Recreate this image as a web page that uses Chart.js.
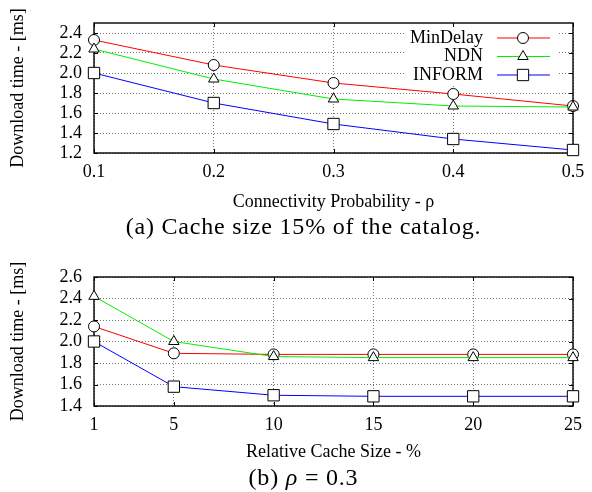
<!DOCTYPE html>
<html>
<head>
<meta charset="utf-8">
<script src="https://cdn.jsdelivr.net/npm/chart.js@4.4.0/dist/chart.umd.min.js"></script>
<style>
  body { margin: 0; background: #fff; width: 592px; height: 492px; position: relative; overflow: hidden; font-family: "Liberation Serif", serif; }
  .box { position: absolute; left: 0; width: 592px; height: 215px; }
  .cap { position: absolute; left: 0; width: 607px; text-align: center; font-size: 24px; line-height: 26px; letter-spacing: 0.8px; color: #000; }
</style>
</head>
<body>
<div class="box" style="top:0"><canvas id="graph1"></canvas></div>
<div class="cap" style="top:213px">(a) Cache size 15% of the catalog.</div>
<div class="box" style="top:250px"><canvas id="graph2"></canvas></div>
<div class="cap" style="top:464px">(b) <i>ρ</i>&nbsp;=&nbsp;0.3</div>
<script>
var seriesNames = ["MinDelay", "NDN", "INFORM"];
var seriesColors = ["#ff0000", "#00ee00", "#0000ff"];
var seriesMarkers = ["circle", "triangle", "rect"];
var markerSizes = [5.5, 6, 8];

// (a) download time vs connectivity probability
var probX = [0.1, 0.2, 0.3, 0.4, 0.5];
var probMinDelay = [2.33, 2.08, 1.90, 1.79, 1.67];
var probNDN = [2.24, 1.94, 1.74, 1.67, 1.66];
var probInform = [2.00, 1.70, 1.49, 1.34, 1.23];
var probYTicks = [1.2, 1.4, 1.6, 1.8, 2, 2.2, 2.4];

// (b) download time vs relative cache size
var cacheX = [1, 5, 10, 15, 20, 25];
var cacheMinDelay = [2.14, 1.89, 1.88, 1.88, 1.88, 1.88];
var cacheNDN = [2.42, 2.00, 1.86, 1.85, 1.85, 1.85];
var cacheInform = [2.00, 1.58, 1.50, 1.49, 1.49, 1.49];
var cacheYTicks = [1.4, 1.6, 1.8, 2, 2.2, 2.4, 2.6];

var serif = "'Liberation Serif', 'Times New Roman', serif";
Chart.defaults.font.family = serif;
Chart.defaults.color = '#000';

function makeSets(xs, lists) {
  return lists.map(function (ys, i) {
    return {
      label: seriesNames[i],
      data: xs.map(function (x, j) { return { x: x, y: ys[j] }; }),
      borderColor: seriesColors[i],
      borderWidth: 1,
      pointStyle: seriesMarkers[i],
      pointRadius: markerSizes[i],
      pointHoverRadius: markerSizes[i],
      pointBorderColor: '#000',
      pointBorderWidth: 1,
      pointBackgroundColor: '#fff',
      clip: false,
      order: [1, 0, 2][i]
    };
  });
}

// gnuplot-like frame, inward tics, and key
function framePlugin(showKey) {
  return {
    id: 'frame',
    beforeDatasetsDraw: function (chart) {
      var a = chart.chartArea, ctx = chart.ctx;
      ctx.save();
      if (showKey) {
        ctx.font = '18px ' + serif;
        var w = 0;
        chart.data.datasets.forEach(function (d) { w = Math.max(w, ctx.measureText(d.label).width); });
        ctx.fillStyle = '#fff';
        ctx.fillRect(a.right - 96 - w, a.top + 5, w + 80, 58);
      }
      ctx.strokeStyle = '#000';
      ctx.lineWidth = 1;
      var xs = chart.scales.x, ys = chart.scales.y;
      xs.ticks.forEach(function (t) {
        var p = Math.round(xs.getPixelForValue(t.value)) + 0.5;
        ctx.beginPath();
        ctx.moveTo(p, a.bottom); ctx.lineTo(p, a.bottom - 4);
        ctx.moveTo(p, a.top); ctx.lineTo(p, a.top + 4);
        ctx.stroke();
      });
      ys.ticks.forEach(function (t) {
        var p = Math.round(ys.getPixelForValue(t.value)) + 0.5;
        ctx.beginPath();
        ctx.moveTo(a.left, p); ctx.lineTo(a.left + 4, p);
        ctx.moveTo(a.right, p); ctx.lineTo(a.right - 4, p);
        ctx.stroke();
      });
      ctx.lineWidth = 1.4;
      ctx.strokeRect(a.left, a.top, a.right - a.left, a.bottom - a.top);
      ctx.restore();
    },
    afterDatasetsDraw: function (chart) {
      if (!showKey) return;
      var a = chart.chartArea, ctx = chart.ctx;
      ctx.save();
      ctx.font = '18px ' + serif;
      ctx.textAlign = 'right';
      ctx.textBaseline = 'middle';
      chart.data.datasets.forEach(function (d, i) {
        var y = a.top + 15 + i * 18.5;
        ctx.fillStyle = '#000';
        ctx.fillText(d.label, a.right - 90, y);
        ctx.strokeStyle = d.borderColor;
        ctx.lineWidth = 1;
        ctx.beginPath();
        ctx.moveTo(a.right - 76, y); ctx.lineTo(a.right - 23, y);
        ctx.stroke();
        ctx.fillStyle = '#fff';
        ctx.strokeStyle = '#000';
        Chart.helpers.drawPoint(ctx, { pointStyle: d.pointStyle, radius: d.pointRadius, borderWidth: 1, rotation: 0 }, a.right - 50, y);
      });
      ctx.restore();
    }
  };
}

function makeChart(id, xs, lists, xTicks, yTicks, xMin, xMax, yMin, yMax, xTitle, padTop, xHeight, showKey) {
  var ctx = document.getElementById(id).getContext('2d');
  return new Chart(ctx, {
    type: 'line',
    data: { datasets: makeSets(xs, lists) },
    plugins: [framePlugin(showKey)],
    options: {
      responsive: true,
      maintainAspectRatio: false,
      animation: false,
      layout: { padding: { top: padTop, right: 19, left: 0, bottom: 0 } },
      plugins: { legend: { display: false }, tooltip: { enabled: false } },
      scales: {
        x: {
          type: 'linear', min: xMin, max: xMax,
          afterBuildTicks: function (s) { s.ticks = xTicks.map(function (v) { return { value: v }; }); },
          afterFit: function (s) { s.height = xHeight; s.paddingLeft = 0; s.paddingRight = 0; },
          ticks: { font: { size: 18 }, padding: 8, maxRotation: 0, autoSkip: false },
          grid: { color: '#777', drawTicks: false, lineWidth: 1 },
          border: { display: false, dash: [1, 2] },
          title: { display: true, text: xTitle, font: { size: 18 }, padding: { top: 0, bottom: 2 } }
        },
        y: {
          min: yMin, max: yMax,
          afterBuildTicks: function (s) { s.ticks = yTicks.map(function (v) { return { value: v }; }); },
          afterFit: function (s) { s.width = 94; s.paddingTop = 0; s.paddingBottom = 0; },
          ticks: { font: { size: 18 }, padding: 12, autoSkip: false },
          grid: { color: '#777', drawTicks: false, lineWidth: 1 },
          border: { display: false, dash: [1, 2] },
          title: { display: true, text: 'Download time - [ms]', font: { size: 18 }, padding: { top: 7, bottom: 0 } }
        }
      }
    }
  });
}

makeChart('graph1', probX, [probMinDelay, probNDN, probInform], probX, probYTicks,
  0.1, 0.5, 1.2, 2.5, 'Connectivity Probability - ρ', 23, 62, true);
makeChart('graph2', cacheX, [cacheMinDelay, cacheNDN, cacheInform], cacheX, cacheYTicks,
  1, 25, 1.4, 2.6, 'Relative Cache Size - %', 27, 59, false);
</script>
</body>
</html>
